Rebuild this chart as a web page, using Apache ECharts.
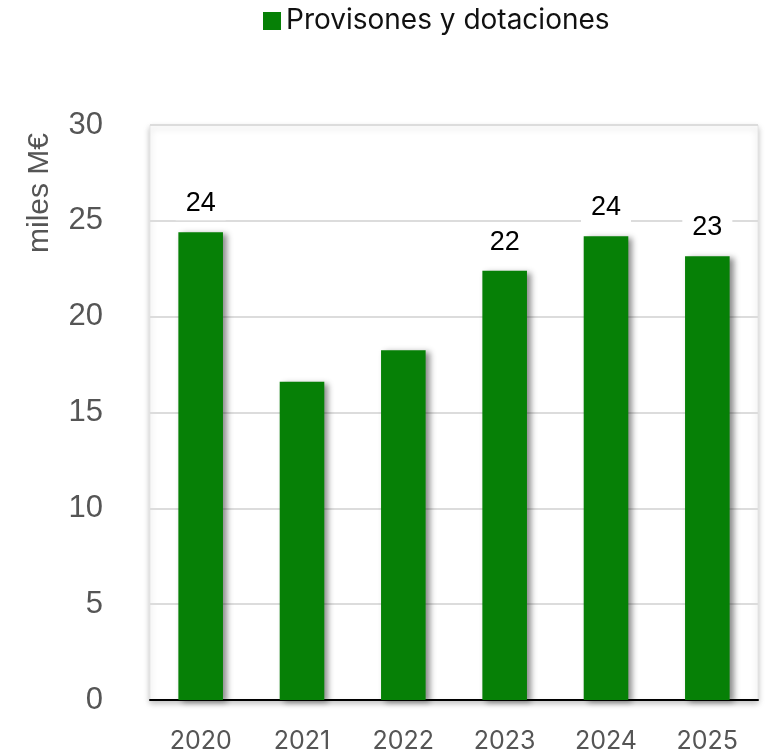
<!DOCTYPE html>
<html><head><meta charset="utf-8">
<script src="https://cdn.jsdelivr.net/npm/echarts@6/dist/echarts.min.js"></script>
<style>html,body{margin:0;padding:0;background:#fff}#c{width:766px;height:755px}</style>
</head><body><div id="c"></div>
<script>
const categories = ['2020','2021','2022','2023','2024','2025'];
const values = [24.4, 16.6, 18.25, 22.4, 24.2, 23.15];
const labelTexts = ['24', '', '', '22', '24', '23'];
const seriesName = 'Provisones y dotaciones';
const yTicks = [0, 5, 10, 15, 20, 25, 30];

const chart = echarts.init(document.getElementById('c'), null, {renderer: 'canvas'});
chart.setOption({
  animation: false,
  legend: {
    top: 2, left: 258,
    itemWidth: 18, itemHeight: 18, itemGap: 8,
    icon: 'rect',
    textStyle: {fontFamily: 'Inter', fontSize: 28, color: '#111'},
    data: [seriesName]
  },
  grid: {
    left: 150, right: 8, top: 125, bottom: 55,
    show: true, backgroundColor: '#fff', borderColor: '#e6e6e6', borderWidth: 1,
    shadowColor: 'rgba(0,0,0,0.25)', shadowBlur: 6, shadowOffsetY: 3
  },
  xAxis: {
    type: 'category', data: categories,
    axisLine: {lineStyle: {color: '#000', width: 2}},
    axisTick: {show: false},
    axisLabel: {fontFamily: 'Inter', fontSize: 25, color: '#555', margin: 29}
  },
  yAxis: {
    type: 'value', min: yTicks[0], max: yTicks[yTicks.length-1], interval: 5,
    axisLine: {show: false}, axisTick: {show: false},
    axisLabel: {fontFamily: 'Liberation Sans', fontSize: 31, color: '#555', margin: 47},
    splitLine: {lineStyle: {color: '#dcdcdc', width: 2}}
  },
  graphic: [{
    type: 'text', left: 25, top: 133, rotation: Math.PI/2,
    style: {text: 'miles M€', fontFamily: 'Liberation Sans', fontSize: 30, fill: '#555'}
  }],
  series: [{
    name: seriesName, type: 'bar', barWidth: '44%',
    itemStyle: {color: '#068006', shadowColor: 'rgba(0,0,0,0.45)', shadowBlur: 6, shadowOffsetX: 4, shadowOffsetY: 2},
    data: values.map((v, i) => ({
      value: v,
      label: {
        show: labelTexts[i] !== '', position: 'top', distance: 12,
        formatter: () => labelTexts[i],
        fontFamily: 'Liberation Sans', fontSize: 27, color: '#000',
        backgroundColor: '#fff', padding: [3, 10]
      }
    }))
  }]
});
</script></body></html>
